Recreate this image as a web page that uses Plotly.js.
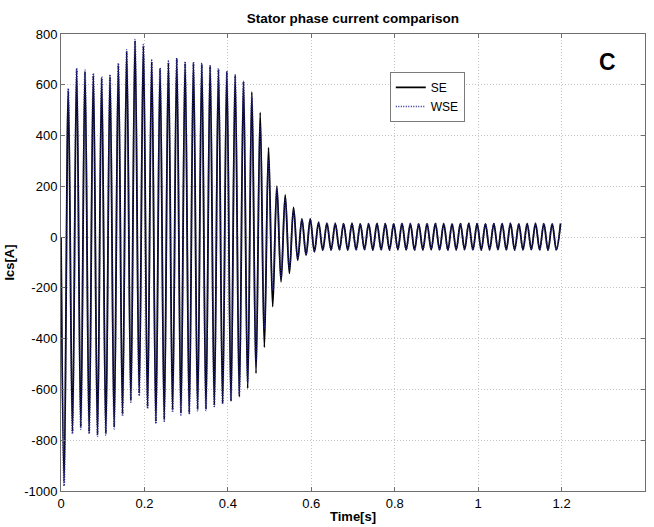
<!DOCTYPE html>
<html>
<head>
<meta charset="utf-8">
<script src="https://cdn.plot.ly/plotly-3.0.1.min.js"></script>
<style>
html,body{margin:0;padding:0;background:#fff;}
#chart{width:654px;height:527px;}
</style>
</head>
<body>
<div id="chart"></div>
<script>
// Extremum sampling of the 50 Hz phase current (trough, peak, trough, peak, ...)
const startTime = 0;
const startValue = 0;
const firstExtremumTime = 0.0075;
const extremumStep = 0.01;

// SE (black solid) – peak and trough values read per cycle
const sePeaks = [575,658,651,638,625,632,677,730,773,752,690,660,686,701,686,684,680,673,660,651,637,614,572,491,352,201,166,117,72,72,58,
  55,54,53,54,52,53,54,53,52,54,53,52,53,54,53,52,53,54,53,52,53,53,54,52,53,54,53,52,53];
const seTroughs = [-964,-767,-747,-767,-776,-772,-747,-697,-642,-616,-668,-727,-718,-681,-692,-692,-677,-677,-662,-655,-646,-629,-596,-537,-434,-274,-176,-143,-91,-71,-58,
  -52,-51,-50,-51,-50,-49,-51,-50,-51,-49,-50,-51,-50,-49,-50,-51,-50,-49,-50,-51,-50,-49,-50,-51,-50,-49,-50,-51,-50];

// WSE (blue dotted)
const wsePeaks = [585,665,658,645,632,640,685,738,778,758,697,666,693,706,692,690,685,678,664,654,638,610,555,440,300,190,150,105,70,68,58,
  55,54,53,54,52,53,54,53,52,54,53,52,53,54,53,52,53,54,53,52,53,53,54,52,53,54,53,52,53];
const wseTroughs = [-980,-775,-757,-775,-785,-780,-755,-705,-650,-625,-675,-735,-725,-690,-700,-698,-684,-683,-667,-658,-645,-620,-575,-505,-360,-210,-160,-125,-85,-68,-56,
  -52,-51,-50,-51,-50,-49,-51,-50,-51,-49,-50,-51,-50,-49,-50,-51,-50,-49,-50,-51,-50,-49,-50,-51,-50,-49,-50,-51,-50];

const xTickVals = [0,0.2,0.4,0.6,0.8,1,1.2,1.4];
const xTickText = ['0','0.2','0.4','0.6','0.8','1','1.2','1.4'];
const yTickVals = [-1000,-800,-600,-400,-200,0,200,400,600,800];
const yTickText = ['-1000','-800','-600','-400','-200','0','200','400','600','800'];

function buildSeries(troughs, peaks){
  const x = [startTime], y = [startValue];
  for(let k=0;k<peaks.length;k++){
    x.push(+(firstExtremumTime + extremumStep*(2*k)).toFixed(4));
    y.push(troughs[k]);
    x.push(+(firstExtremumTime + extremumStep*(2*k+1)).toFixed(4));
    y.push(peaks[k]);
  }
  return {x, y};
}

const se = buildSeries(seTroughs, sePeaks);
const wse = buildSeries(wseTroughs, wsePeaks);

const traces = [
  {x: se.x, y: se.y, type:'scatter', mode:'lines', name:'SE',
   line:{color:'#000000', width:1.8, shape:'spline', smoothing:1}},
  {x: wse.x, y: wse.y, type:'scatter', mode:'lines', name:'WSE',
   line:{color:'#23238f', width:1.6, dash:'1px,1.5px', shape:'spline', smoothing:1}}
];

const axisCommon = {
  showline:true, linecolor:'#6e6e6e', linewidth:1, mirror:'ticks',
  ticks:'inside', ticklen:4, tickcolor:'#6e6e6e',
  showgrid:true, gridcolor:'#c4c4c4', griddash:'1px,2px', gridwidth:1,
  zeroline:false,
  tickfont:{family:'Liberation Sans, Arial, sans-serif', size:13, color:'#000'}
};

const layout = {
  width:654, height:527,
  paper_bgcolor:'#ffffff', plot_bgcolor:'#ffffff',
  margin:{l:61, r:9, t:34, b:36},
  title:{text:'<b>Stator phase current comparison</b>', x:0.5395, xanchor:'center', y:0.966, yanchor:'middle',
         font:{family:'Liberation Sans, Arial, sans-serif', size:13.5, color:'#000'}},
  xaxis: Object.assign({}, axisCommon, {
    range:[0,1.4], tickvals:xTickVals, ticktext:xTickText,
    title:{text:'<b>Time[s]</b>', standoff:2, font:{family:'Liberation Sans, Arial, sans-serif', size:13, color:'#000'}}
  }),
  yaxis: Object.assign({}, axisCommon, {
    range:[-1000,800], tickvals:yTickVals, ticktext:yTickText,
    title:{text:'<b>Ics[A]</b>', standoff:6, font:{family:'Liberation Sans, Arial, sans-serif', size:13, color:'#000'}}
  }),
  showlegend:true,
  legend:{x:0.563, y:0.917, xanchor:'left', yanchor:'top',
          bgcolor:'#ffffff', bordercolor:'#7a7a7a', borderwidth:1,
          font:{family:'Liberation Sans, Arial, sans-serif', size:12, color:'#000'},
          tracegroupgap:0, itemwidth:30},
  annotations:[{text:'<b>C</b>', xref:'paper', yref:'paper', x:0.935, y:0.939,
                showarrow:false, xanchor:'center', yanchor:'middle',
                font:{family:'Liberation Sans, Arial, sans-serif', size:23, color:'#000'}}]
};

Plotly.newPlot('chart', traces, layout, {displayModeBar:false, staticPlot:true});
</script>
</body>
</html>
